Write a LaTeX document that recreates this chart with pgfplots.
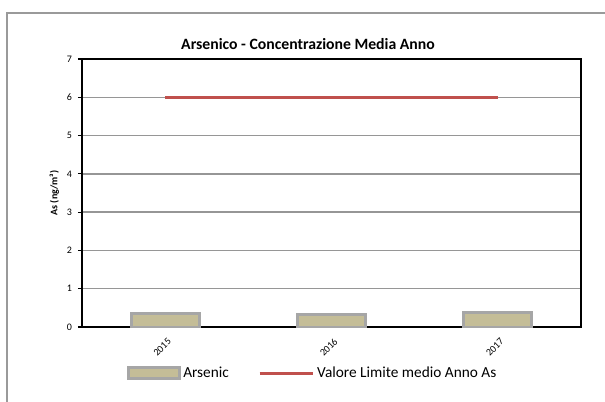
\documentclass[border=0pt]{standalone}
\usepackage{pgfplots}
\pgfplotsset{compat=1.18}
\usepackage{fontspec}
\setmainfont{Carlito}
\definecolor{barfill}{HTML}{C4BD97}
\definecolor{bardraw}{HTML}{A6A6A6}
\definecolor{limred}{HTML}{C0504D}
\definecolor{gridc}{HTML}{969696}
\definecolor{framec}{HTML}{9A9A9A}
\begin{document}
\begin{tikzpicture}
\useasboundingbox (0pt,0pt) rectangle (453.75pt,300.75pt);
\begin{scope}
\clip (0pt,0pt) rectangle (453.75pt,300.75pt);
\draw[framec, line width=0.9pt] (5.25pt,-10pt) -- (5.25pt,291pt) -- (470pt,291pt);
\end{scope}
\node[font=\bfseries\fontsize{11.8}{13}\selectfont] at (231pt,267.75pt) {Arsenico - Concentrazione Media Anno};
\begin{axis}[
  at={(61.5pt,55.5pt)}, anchor=south west,
  scale only axis, width=374.25pt, height=201pt,
  xmin=0, xmax=3, ymin=0, ymax=7,
  xtick={0.5,1.5,2.5}, xticklabels={2015,2016,2017},
  ytick={0,1,...,7},
  x tick label style={rotate=45, anchor=north east, font=\fontsize{7.5}{8}\selectfont, yshift=-1pt, xshift=1pt},
  y tick label style={font=\fontsize{7.5}{8}\selectfont, xshift=-1pt},
  /pgf/number format/assume math mode=true,
  ymajorgrids, grid style={gridc, line width=1pt},
  axis line style={black, line width=1.5pt},
  tick style={black, line width=0.8pt},
  xtick style={draw=none},
  ytick pos=left, tick align=outside, major tick length=3pt,
  ylabel={\bfseries As (ng/m³)},
  ylabel style={font=\fontsize{7.5}{8}\selectfont, yshift=-1pt},
  legend style={at={(0.463,-0.172)}, anchor=center, draw=none, fill=none,
    legend columns=2, font=\fontsize{11.5}{12}\selectfont,
    /tikz/every even column/.append style={column sep=20pt}},
  legend cell align=left,
]
\addplot[ybar, bar width=0.41, fill=barfill, draw=bardraw, line width=2.2pt,
  area legend,
  legend image code/.code={\draw[fill=barfill, draw=bardraw, line width=2.2pt] (0pt,-4pt) rectangle (38pt,4pt);}]
  coordinates {(0.5,0.35) (1.5,0.32) (2.5,0.38)};
\addlegendentry{Arsenic}
\addplot[limred, line width=2.2pt, mark=none,
  legend image code/.code={\draw[limred, line width=2.2pt] (0pt,0pt) -- (40pt,0pt);}]
  coordinates {(0.5,6) (2.5,6)};
\addlegendentry{Valore Limite medio Anno As}
\end{axis}
\end{tikzpicture}
\end{document}
